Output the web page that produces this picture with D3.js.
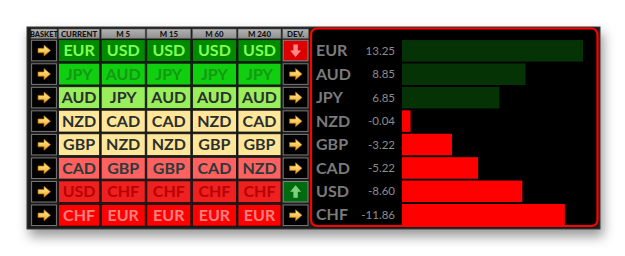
<!DOCTYPE html>
<html>
<head>
<meta charset="utf-8">
<script src="https://cdn.jsdelivr.net/npm/d3@7"></script>
<style>
  body { margin: 0; background: #fff; }
  svg { display: block; }
</style>
</head>
<body>
<svg width="625" height="256"></svg>
<script>
// ranking table, one list per timeframe column (top = strongest)
const headers = ["BASKET", "CURRENT", "M 5", "M 15", "M 60", "M 240", "DEV."];
const timeframes = ["CURRENT", "M 5", "M 15", "M 60", "M 240"];
const rankCurrent = ["EUR", "JPY", "AUD", "NZD", "GBP", "CAD", "USD", "CHF"];
const rankM5 = ["USD", "AUD", "JPY", "CAD", "NZD", "GBP", "CHF", "EUR"];
const rankM15 = ["USD", "JPY", "AUD", "CAD", "NZD", "GBP", "CHF", "EUR"];
const rankM60 = ["USD", "JPY", "AUD", "NZD", "GBP", "CAD", "CHF", "EUR"];
const rankM240 = ["USD", "JPY", "AUD", "CAD", "GBP", "NZD", "CHF", "EUR"];
const deviation = ["down", "right", "right", "right", "right", "right", "up", "right"];

// strength panel
const currencies = ["EUR", "AUD", "JPY", "NZD", "GBP", "CAD", "USD", "CHF"];
const strength = [13.25, 8.85, 6.85, -0.04, -3.22, -5.22, -8.60, -11.86];

const rankings = [rankCurrent, rankM5, rankM15, rankM60, rankM240];

// row colour styles (bg / text) by rank position
const rowBg = ["#008a00", "#0fcf0f", "#99ee5c", "#ffe699", "#ffe699", "#ff6060", "#ee2020", "#ff0000"];
const rowFg = ["#80ff50", "#159815", "#2a2f2f", "#2a2f2f", "#2a2f2f", "#2a3a3a", "#b80000", "#ff8080"];

const svg = d3.select('svg');
const defs = svg.append('defs');

const shadow = defs.append('filter').attr('id', 'shadow')
  .attr('x', '-10%').attr('y', '-10%').attr('width', '125%').attr('height', '145%');
shadow.append('feDropShadow')
  .attr('dx', 3).attr('dy', 7).attr('stdDeviation', 6)
  .attr('flood-color', '#000').attr('flood-opacity', 0.4);

const arrowGrad = defs.append('linearGradient').attr('id', 'arrowGrad')
  .attr('x1', 0).attr('y1', 0).attr('x2', 0).attr('y2', 1);
arrowGrad.append('stop').attr('offset', '0%').attr('stop-color', '#fff2a0');
arrowGrad.append('stop').attr('offset', '100%').attr('stop-color', '#f5a623');

const headGrad = defs.append('linearGradient').attr('id', 'headGrad')
  .attr('x1', 0).attr('y1', 0).attr('x2', 0).attr('y2', 1);
headGrad.append('stop').attr('offset', '0%').attr('stop-color', '#b4b4b4');
headGrad.append('stop').attr('offset', '100%').attr('stop-color', '#8e8e8e');

// outer frame
svg.append('rect')
  .attr('x', 27).attr('y', 27).attr('width', 573).attr('height', 202)
  .attr('fill', '#1c1c1c')
  .attr('stroke', '#3a3a3a')
  .attr('filter', 'url(#shadow)');

// column layout
const colWidths = [26, 41, 44, 44, 44, 43, 26];
const colGap = 1.6;
const colX = [];
colWidths.reduce((x, w) => { colX.push(x); return x + w + colGap; }, 31);

const y = d3.scaleBand()
  .domain(d3.range(8))
  .range([39.2, 226.6])
  .paddingInner(0.075)
  .paddingOuter(0.02);

const g = svg.append('g');

// header
const head = g.selectAll('g.head').data(headers).enter().append('g').attr('class', 'head');
head.append('rect')
  .attr('x', (d, i) => colX[i]).attr('y', 29)
  .attr('width', (d, i) => colWidths[i]).attr('height', 9.5)
  .attr('fill', 'url(#headGrad)')
  .attr('stroke', '#555').attr('stroke-width', 0.6);
head.append('text')
  .attr('x', (d, i) => colX[i] + colWidths[i] / 2).attr('y', 36.8)
  .attr('text-anchor', 'middle')
  .attr('font-family', 'Lato, "Open Sans", sans-serif')
  .attr('font-weight', 900)
  .attr('font-size', (d, i) => i === 0 ? 7.4 : 7.8)
  .attr('fill', '#111')
  .text(d => d);

// ranking cells
const cellData = [];
rankings.forEach((col, c) => col.forEach((cur, r) => cellData.push({ c: c + 1, r, cur })));

const cells = g.selectAll('g.cell').data(cellData).enter().append('g').attr('class', 'cell');
cells.append('rect')
  .attr('x', d => colX[d.c]).attr('y', d => y(d.r))
  .attr('width', d => colWidths[d.c]).attr('height', y.bandwidth())
  .attr('fill', d => rowBg[d.r])
  .attr('stroke', '#111').attr('stroke-width', 0.8);
cells.append('text')
  .attr('x', d => colX[d.c] + colWidths[d.c] / 2)
  .attr('y', d => y(d.r) + y.bandwidth() / 2 + 5.6)
  .attr('text-anchor', 'middle')
  .attr('font-family', 'Lato, "Open Sans", sans-serif')
  .attr('font-weight', 'bold')
  .attr('font-size', 16)
  .attr('fill', d => rowFg[d.r])
  .text(d => d.cur);

// arrows
const rightArrow = 'M-6,-2.2 L0,-2.2 L0,-5.5 L6.5,0 L0,5.5 L0,2.2 L-6,2.2 Z';
const downArrow = 'M-2.2,-6 L2.2,-6 L2.2,0 L5.5,0 L0,6.5 L-5.5,0 L-2.2,0 Z';
const upArrow = 'M-2.2,6 L2.2,6 L2.2,0 L5.5,0 L0,-6.5 L-5.5,0 L-2.2,0 Z';

function iconCell(col, r, kind) {
  const x = colX[col], w = colWidths[col];
  const cell = g.append('g');
  const bg = kind === 'down' ? '#dd0000' : kind === 'up' ? '#006a10' : '#000';
  cell.append('rect')
    .attr('x', x + 0.6).attr('y', y(r) + 0.6)
    .attr('width', w - 1.2).attr('height', y.bandwidth() - 1.2)
    .attr('fill', bg)
    .attr('stroke', kind === 'right' ? '#7a7a7a' : '#888').attr('stroke-width', 1);
  const cx = x + w / 2, cy = y(r) + y.bandwidth() / 2;
  const path = kind === 'down' ? downArrow : kind === 'up' ? upArrow : rightArrow;
  cell.append('path')
    .attr('d', path)
    .attr('transform', `translate(${cx},${cy})`)
    .attr('fill', kind === 'down' ? '#ff8a8a' : kind === 'up' ? '#7fd07f' : 'url(#arrowGrad)')
    .attr('stroke', kind === 'right' ? '#b86a00' : 'none')
    .attr('stroke-width', 0.7);
}

d3.range(8).forEach(r => iconCell(0, r, 'right'));
deviation.forEach((d, r) => iconCell(6, r, d));

// strength panel
const panel = svg.append('g');
panel.append('rect')
  .attr('x', 311).attr('y', 28.5).attr('width', 286.5).attr('height', 197.5)
  .attr('rx', 6).attr('ry', 6)
  .attr('fill', '#000')
  .attr('stroke', '#ff0000').attr('stroke-width', 2.2);

const by = d3.scaleBand()
  .domain(currencies)
  .range([39.6, 226])
  .paddingInner(0.08)
  .paddingOuter(0.02);

const barX0 = 402;
const w = d3.scaleLinear()
  .domain([0, d3.max(strength, Math.abs)])
  .range([8, 181]);

const rows = panel.selectAll('g.bar').data(currencies).enter().append('g').attr('class', 'bar');
rows.append('rect')
  .attr('x', barX0)
  .attr('y', d => by(d))
  .attr('width', (d, i) => w(Math.abs(strength[i])))
  .attr('height', by.bandwidth())
  .attr('fill', (d, i) => strength[i] > 0 ? '#063306' : '#ff0000');
rows.append('text')
  .attr('x', 316)
  .attr('y', d => by(d) + by.bandwidth() / 2 + 5.6)
  .attr('font-family', 'Lato, "Open Sans", sans-serif')
  .attr('font-weight', 'bold')
  .attr('font-size', 16)
  .attr('fill', '#7b7b7b')
  .text(d => d);
rows.append('text')
  .attr('x', 395)
  .attr('y', d => by(d) + by.bandwidth() / 2 + 4)
  .attr('text-anchor', 'end')
  .attr('font-family', 'Lato, "Open Sans", sans-serif')
  .attr('font-size', 11.5)
  .attr('fill', '#8c8c8c')
  .text((d, i) => strength[i].toFixed(2));
</script>
</body>
</html>
